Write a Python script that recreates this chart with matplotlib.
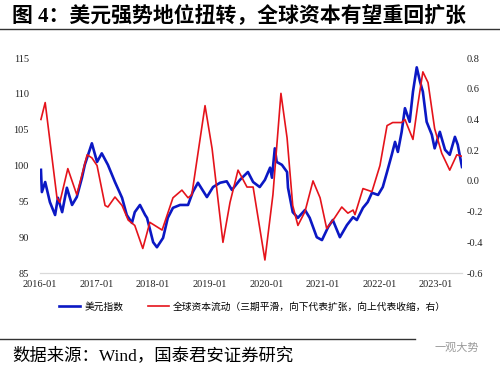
import numpy as np
import matplotlib
matplotlib.use("Agg")
import matplotlib.pyplot as plt

plt.rcParams['font.family'] = ['Liberation Serif', 'Noto Sans CJK SC', 'DejaVu Sans']
plt.rcParams['axes.unicode_minus'] = False

# months since 2016-01
dxy_month = [0.2, 0.4, 1.1, 2.1, 3.2, 3.8, 4.7, 5.7, 6.8, 7.8, 8.9, 9.5, 11.0, 12.1,
             13.1, 14.4, 15.9, 17.4, 18.4, 19.5, 20.1, 21.2, 22.3, 22.7, 24.0, 24.8,
             26.1, 27.1, 28.2, 29.7, 31.4, 32.4, 33.5, 35.4, 36.7, 38.2, 39.6, 40.7,
             42.4, 44.1, 45.2, 46.6, 47.7, 48.8, 49.2, 49.8, 50.2, 51.3, 52.4, 52.6,
             53.6, 54.7, 56.2, 57.2, 58.7, 59.8, 61.1, 62.1, 63.6, 65.1, 66.4, 67.2,
             68.5, 69.5, 70.4, 71.7, 72.7, 73.6, 74.6, 75.3, 75.9, 76.7, 77.4, 78.4,
             79.1, 79.9, 80.6, 81.2, 82.0, 83.1, 83.7, 84.8, 85.9, 86.9, 88.0, 88.6, 89.5]
dxy_value = [99.4, 96.3, 97.7, 94.9, 93.1, 95.5, 93.5, 96.9, 94.5, 95.6, 98.3, 100.1, 103.1, 100.5,
             101.7, 100.1, 97.7, 95.5, 93.1, 92.0, 93.5, 94.5, 93.1, 92.7, 89.3, 88.6,
             89.9, 92.7, 94.1, 94.5, 94.5, 96.3, 97.6, 95.6, 97.0, 97.6, 97.8, 96.6,
             98.0, 99.1, 97.7, 97.0, 98.0, 99.7, 98.3, 102.4, 100.5, 100.1, 99.1, 96.9,
             93.5, 92.7, 93.8, 92.7, 90.0, 89.6, 91.4, 92.4, 90.0, 91.7, 92.8, 92.4,
             94.1, 94.9, 96.2, 95.9, 97.0, 99.1, 101.5, 103.3, 101.9, 104.7, 108.0, 106.1,
             110.3, 113.7, 111.7, 110.3, 106.1, 104.3, 102.4, 104.7, 102.2, 101.5, 104.0, 102.9, 99.8]

flow_month = [0.2, 1.1, 3.6, 4.2, 5.9, 7.8, 10.0, 11.0, 12.1, 13.8, 14.4, 15.9, 17.4, 18.7,
              20.1, 21.8, 23.3, 25.9, 28.2, 30.1, 31.4, 32.2, 35.0, 36.5, 38.8, 40.3,
              42.0, 43.9, 45.2, 47.7, 49.4, 51.1, 52.4, 53.6, 54.7, 56.2, 57.9, 59.4,
              60.8, 62.5, 64.0, 65.3, 66.4, 66.8, 68.5, 70.4, 72.1, 73.6, 74.8, 76.7,
              77.4, 79.1, 80.1, 81.2, 82.3, 83.7, 85.2, 86.9, 88.4, 89.5]
flow_value = [0.40, 0.51, -0.11, -0.14, 0.08, -0.09, 0.17, 0.15, 0.10, -0.16, -0.17, -0.105, -0.16, -0.255,
              -0.29, -0.44, -0.27, -0.32, -0.11, -0.06, -0.11, -0.09, 0.49, 0.21, -0.40, -0.14,
              0.07, -0.04, -0.04, -0.515, -0.09, 0.57, 0.28, -0.16, -0.29, -0.20, 0.0, -0.11,
              -0.31, -0.24, -0.17, -0.21, -0.19, -0.22, -0.05, -0.07, 0.10, 0.36, 0.38, 0.38,
              0.40, 0.27, 0.49, 0.71, 0.64, 0.34, 0.18, 0.07, 0.17, 0.16]

tick_months = [0, 12, 24, 36, 48, 60, 72, 84]
tick_labels = ['2016-01', '2017-01', '2018-01', '2019-01', '2020-01', '2021-01', '2022-01', '2023-01']

fig = plt.figure(figsize=(5.0, 3.72), dpi=100)
ax = fig.add_axes([0.08, 0.266, 0.844, 0.578])
ax2 = ax.twinx()

l1, = ax.plot(dxy_month, dxy_value, color='#0b18c4', lw=1.9, label='美元指数')
l2, = ax2.plot(flow_month, flow_value, color='#e5131b', lw=1.2,
               label='全球资本流动（三期平滑，向下代表扩张，向上代表收缩，右）')

ax.set_xlim(0, 89.5)
ax.set_ylim(85, 115)
ax2.set_ylim(-0.6, 0.8)
ax.set_yticks(np.arange(85, 116, 5))
ax2.set_yticks(np.arange(-0.6, 0.81, 0.2))
ax2.set_yticklabels([f'{v:.1f}' for v in np.arange(-0.6, 0.81, 0.2)])
ax.set_xticks(tick_months)
ax.set_xticklabels(tick_labels)

for a in (ax, ax2):
    for s in ('top', 'right', 'left'):
        a.spines[s].set_visible(False)
    a.spines['bottom'].set_color('#d9d9d9')
    a.tick_params(length=0, labelsize=7.5, colors='#222222')
ax.tick_params(axis='y', pad=8)
ax.tick_params(axis='x', pad=5)
ax2.tick_params(axis='y', pad=3)

fig.legend([l1, l2], [l1.get_label(), l2.get_label()], loc='center',
           bbox_to_anchor=(0.505, 0.175), ncol=2, frameon=False,
           prop={'family': ['Noto Sans CJK SC'], 'size': 7},
           handlelength=2.2, columnspacing=2.5, handletextpad=0.4)

fig.text(0.025, 0.958, '图 4：美元强势地位扭转，全球资本有望重回扩张',
         fontsize=15, fontweight='bold', va='center', ha='left',
         family=['Liberation Serif', 'Noto Sans CJK SC'])
fig.add_artist(plt.Line2D([0.0, 1.0], [0.922, 0.922], color='#333333', lw=1.0))
fig.add_artist(plt.Line2D([0.0, 0.83], [0.089, 0.089], color='#333333', lw=1.0))
fig.text(0.025, 0.045, '数据来源：Wind，国泰君安证券研究', fontsize=12.5,
         va='center', ha='left', family=['Liberation Serif', 'Noto Sans CJK SC'])
fig.text(0.87, 0.065, '一观大势', fontsize=8, color='#9a9a9a', va='center',
         ha='left', family=['Noto Sans CJK SC'])

fig.savefig('out.png', dpi=100)
